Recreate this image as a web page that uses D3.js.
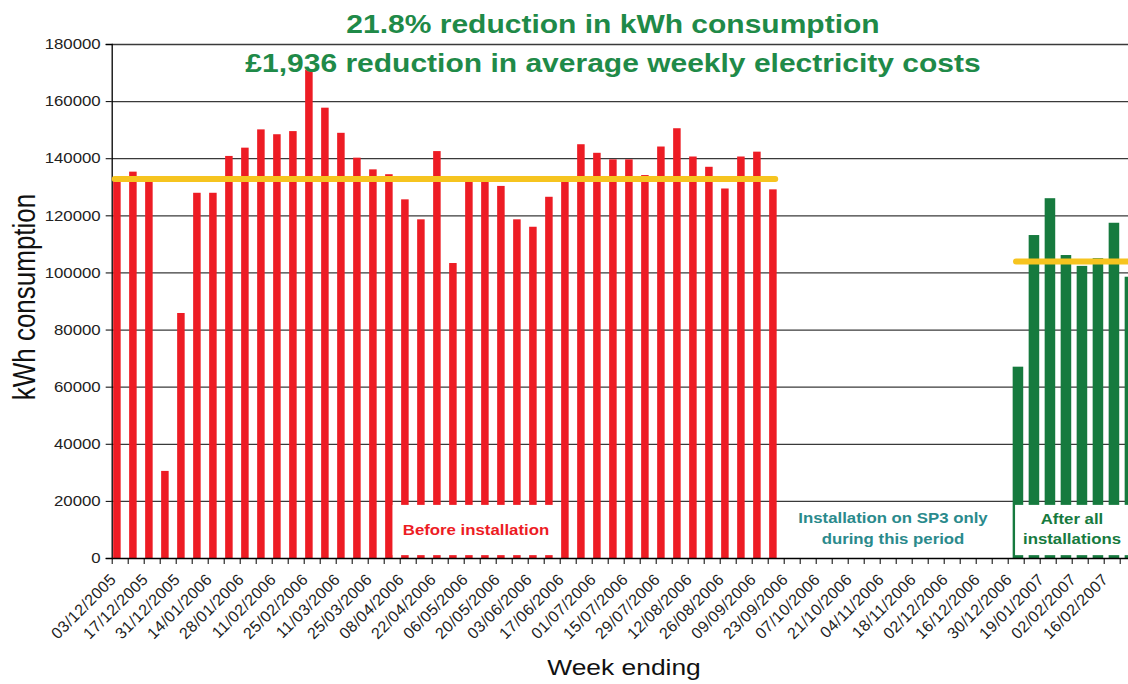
<!DOCTYPE html>
<html>
<head>
<meta charset="utf-8">
<script src="https://cdn.jsdelivr.net/npm/d3@7"></script>
<style>
  body { margin: 0; background: #fff; }
  svg { display: block; font-family: "Liberation Sans", Arial, sans-serif; }
</style>
</head>
<body>
<svg></svg>
<script>
// weekly kWh before installation (week 0 = 03/12/2005)
let beforeValues = [132000, 135300, 132500, 30500, 85800, 127900, 127900, 140800, 143700, 150100,
  148400, 149500, 171000, 157700, 148900, 140200, 136100, 134400, 125600, 118600,
  142500, 103300, 132000, 132000, 130300, 118600, 116000, 126500, 132000, 144900,
  141900, 139600, 139600, 134100, 144100, 150500, 140600, 137000, 129400, 140600,
  142300, 129100];
// weekly kWh after all installations, starting at week 56
let afterStart = 56;
let afterValues = [67000, 113100, 126000, 106100, 102300, 105000, 117400, 98500];
// averages (yellow lines)
let beforeAverage = 132700;
let afterAverage = 103800;

// labels on every second week
let weekLabels = ['03/12/2005', '17/12/2005', '31/12/2005', '14/01/2006', '28/01/2006', '11/02/2006',
  '25/02/2006', '11/03/2006', '25/03/2006', '08/04/2006', '22/04/2006', '06/05/2006', '20/05/2006',
  '03/06/2006', '17/06/2006', '01/07/2006', '15/07/2006', '29/07/2006', '12/08/2006', '26/08/2006',
  '09/09/2006', '23/09/2006', '07/10/2006', '21/10/2006', '04/11/2006', '18/11/2006', '02/12/2006',
  '16/12/2006', '30/12/2006', '19/01/2007', '02/02/2007', '16/02/2007'];
let weekCount = 64;
let yTicks = [0, 20000, 40000, 60000, 80000, 100000, 120000, 140000, 160000, 180000];

let titleLines = ['21.8% reduction in kWh consumption', '£1,936 reduction in average weekly electricity costs'];

// configuration of svg/plot area
let config = { 'svg': {}, 'plot': {} };
config.svg.width = 1128;
config.svg.height = 684;
config.plot.x = 111.7;
config.plot.y = 44;
config.plot.step = 16;
config.plot.width = weekCount * config.plot.step;
config.plot.height = 514;

// the source picture is stretched sideways, so is the text
let stretch = 1.2;

let colors = {
  red: '#ed1c24',
  green: '#167a3e',
  yellow: '#f6c41f',
  title: '#1f8a48',
  teal: '#2a8a8c',
  grid: '#3a3a3a'
};

let svg = d3.select('body').select('svg');
svg.attr('width', config.svg.width);
svg.attr('height', config.svg.height);

let x = d3.scaleLinear()
  .domain([0, weekCount])
  .range([config.plot.x, config.plot.x + config.plot.width]);
let y = d3.scaleLinear()
  .domain([0, 180000])
  .range([config.plot.y + config.plot.height, config.plot.y]);
let step = x(1) - x(0);

// gridlines
svg.append('g')
  .attr('transform', translate(config.plot.x, 0))
  .call(d3.axisLeft(y).tickValues(yTicks.slice(1)).tickSize(-config.plot.width).tickFormat(''))
  .call(g => g.select('.domain').remove())
  .call(g => g.selectAll('line').attr('stroke', colors.grid).attr('stroke-width', 1.3));

// red bars
svg.append('g')
  .selectAll('rect')
  .data(beforeValues)
  .enter()
  .append('rect')
    .attr('x', (d, i) => x(i) + step * 0.09)
    .attr('y', d => y(d))
    .attr('width', step * 0.47)
    .attr('height', d => y(0) - y(d))
    .attr('fill', colors.red);

// green bars
svg.append('g')
  .selectAll('rect')
  .data(afterValues)
  .enter()
  .append('rect')
    .attr('x', (d, i) => x(afterStart + i) + step * 0.31)
    .attr('y', d => y(d))
    .attr('width', step * 0.66)
    .attr('height', d => y(0) - y(d))
    .attr('fill', colors.green);

// white label boxes sitting on the bars
svg.append('rect')
  .attr('x', x(17) + step * 0.56)
  .attr('y', y(18600))
  .attr('width', x(28) + step * 0.08 - x(17) - step * 0.56)
  .attr('height', y(1000) - y(18600))
  .attr('fill', '#fff');
svg.append('rect')
  .attr('x', x(56) + step * 0.46)
  .attr('y', y(18600))
  .attr('width', 200)
  .attr('height', y(1000) - y(18600))
  .attr('fill', '#fff');

// axes
let gy = svg.append('g')
  .attr('transform', translate(config.plot.x, 0))
  .call(d3.axisLeft(y).tickValues(yTicks).tickSize(6).tickPadding(5).tickFormat(d3.format('d')));
gy.selectAll('line').attr('stroke', '#000');
gy.select('.domain').attr('stroke', '#000').attr('stroke-width', 1.3);
gy.selectAll('text').each(function() {
  let t = d3.select(this);
  let ty = +t.attr('y') || 0;
  t.attr('transform', 'translate(-11,' + ty + ') scale(' + stretch + ',1)')
   .attr('x', 0).attr('y', 0).attr('dy', '0.34em')
   .attr('font-size', 14).attr('fill', '#222')
   .attr('font-family', '"Liberation Sans", Arial, sans-serif');
});

let gx = svg.append('g')
  .attr('transform', translate(0, y(0)))
  .call(d3.axisBottom(x).tickValues(d3.range(0, weekCount + 1)).tickSize(6).tickSizeOuter(0).tickFormat(''));
gx.selectAll('line').attr('stroke', '#000');
gx.select('.domain').attr('stroke', '#000').attr('stroke-width', 1.3);

// rotated week labels
svg.append('g')
  .selectAll('text')
  .data(weekLabels)
  .enter()
  .append('text')
    .attr('transform', (d, i) => translate(x(i * 2) + 5.5, y(0) + 22.5) + ' rotate(-45)')
    .attr('text-anchor', 'end')
    .attr('font-size', 16)
    .attr('letter-spacing', 0.4)
    .attr('fill', '#222')
    .text(d => d);

// average lines
svg.append('line')
  .attr('x1', x(0) + 3).attr('x2', x(41) + step * 0.47)
  .attr('y1', y(beforeAverage)).attr('y2', y(beforeAverage))
  .attr('stroke', colors.yellow).attr('stroke-width', 6).attr('stroke-linecap', 'round');
svg.append('line')
  .attr('x1', x(56) + step * 0.52).attr('x2', x(weekCount))
  .attr('y1', y(afterAverage)).attr('y2', y(afterAverage))
  .attr('stroke', colors.yellow).attr('stroke-width', 6).attr('stroke-linecap', 'round');

// period labels
function label(text, cx, cy, size, weight, color) {
  svg.append('text')
    .attr('transform', translate(cx, cy) + ' scale(' + stretch + ',1)')
    .attr('text-anchor', 'middle')
    .attr('font-size', size)
    .attr('font-weight', weight)
    .attr('fill', color)
    .text(text);
}
label('Before installation', 476, 535, 14, 'bold', colors.red);
label('Installation on SP3 only', 893, 523, 14, 'bold', colors.teal);
label('during this period', 893, 544, 14, 'bold', colors.teal);
label('After all', 1072, 524, 14, 'bold', colors.green);
label('installations', 1072, 544, 14, 'bold', colors.green);

// titles
label(titleLines[0], 613, 33, 25, 'bold', colors.title);
label(titleLines[1], 613, 71.5, 25, 'bold', colors.title);

// axis titles
label('Week ending', 624, 675, 22, 'normal', '#111');
svg.append('text')
  .attr('transform', translate(35, 297) + ' scale(' + stretch + ',1) rotate(-90)')
  .attr('text-anchor', 'middle')
  .attr('font-size', 26)
  .attr('fill', '#111')
  .text('kWh consumption');

function translate(x, y) {
  return 'translate(' + x + ',' + y + ')';
}
</script>
</body>
</html>
